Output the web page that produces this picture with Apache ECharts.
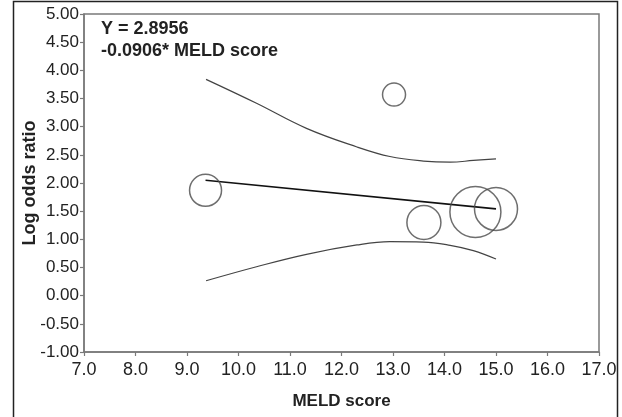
<!DOCTYPE html>
<html>
<head>
<meta charset="utf-8">
<script src="https://cdn.jsdelivr.net/npm/echarts@6/dist/echarts.min.js"></script>
<style>
html,body{margin:0;padding:0;background:#fff;}
#chart{width:622px;height:417px;}
</style>
</head>
<body>
<div id="chart"></div>
<script>
// MELD score and log odds ratio of each study (bubble)
var studyMeld = [9.36, 13.02, 13.60, 14.60, 15.00];
var studyLogOR = [1.87, 3.57, 1.30, 1.485, 1.54];
var studyWeight = [32, 23, 34, 51, 43];

// Regression line endpoints
var regMeld = [9.36, 15.0];
var regLogOR = [2.05, 1.54];

// Confidence band curves
var ciMeld = [9.37, 10.35, 11.32, 12.30, 12.94, 13.59, 14.11, 14.56, 15.0];
var ciUpper = [3.84, 3.415, 2.97, 2.64, 2.47, 2.39, 2.37, 2.40, 2.43];
var ciLower = [0.265, 0.514, 0.734, 0.90, 0.958, 0.952, 0.894, 0.80, 0.65];

var xTicks = ['7.0','8.0','9.0','10.0','11.0','12.0','13.0','14.0','15.0','16.0','17.0'];
var yTicks = ['-1.00','-0.50','0.00','0.50','1.00','1.50','2.00','2.50','3.00','3.50','4.00','4.50','5.00'];

function pairs(xs, ys){ return xs.map(function(x,i){return [x, ys[i]];}); }

var chart = echarts.init(document.getElementById('chart'), null, {renderer:'canvas'});
var axisGray = '#7a7a7a';
var txt = '#222';
var font = 'Liberation Sans, Arial, sans-serif';

chart.setOption({
  animation:false,
  backgroundColor:'#fff',
  grid:{left:84, right:23, top:14, bottom:65, show:true, borderColor:axisGray, borderWidth:1.5, containLabel:false},
  xAxis:{
    type:'value', min:7, max:17, interval:1,
    axisLine:{show:true, onZero:false, lineStyle:{color:axisGray, width:1.5}},
    axisTick:{show:true, length:4, lineStyle:{color:axisGray, width:1.2}},
    splitLine:{show:false},
    axisLabel:{margin:9, color:txt, fontSize:18, fontFamily:font,
      formatter:function(v){ var i=Math.round(v-7); return xTicks[i]; }},
    name:'MELD score', nameLocation:'middle', nameGap:41, nameMoveOverlap:false,
    nameTextStyle:{color:txt, fontSize:17, fontWeight:'bold', fontFamily:font}
  },
  yAxis:{
    type:'value', min:-1, max:5, interval:0.5,
    axisLine:{show:true, onZero:false, lineStyle:{color:axisGray, width:1.5}},
    axisTick:{show:true, length:4, lineStyle:{color:axisGray, width:1.2}},
    splitLine:{show:false},
    axisLabel:{margin:5, color:txt, fontSize:17, fontFamily:font,
      formatter:function(v){ var i=Math.round((v+1)*2); return yTicks[i]; }},
    name:'Log odds ratio', nameLocation:'middle', nameGap:45, nameMoveOverlap:false,
    nameTextStyle:{color:txt, fontSize:18, fontWeight:'bold', fontFamily:font}
  },
  graphic:[
    {type:'rect', shape:{x:13.5, y:1.5, width:604, height:430}, style:{fill:null, stroke:'#222', lineWidth:1.5}, silent:true, z:-1},
    {type:'text', left:101, top:20, style:{text:'Y = 2.8956', fill:txt, font:'bold 18px Liberation Sans, Arial, sans-serif'}},
    {type:'text', left:101, top:42, style:{text:'-0.0906* MELD score', fill:txt, font:'bold 18px Liberation Sans, Arial, sans-serif'}}
  ],
  series:[
    {type:'line', data:pairs(ciMeld, ciUpper), smooth:0.4, symbol:'none', lineStyle:{color:'#444', width:1.2}},
    {type:'line', data:pairs(ciMeld, ciLower), smooth:0.4, symbol:'none', lineStyle:{color:'#444', width:1.2}},
    {type:'line', data:pairs(regMeld, regLogOR), symbol:'none', lineStyle:{color:'#111', width:1.6}},
    {type:'scatter', data:studyMeld.map(function(x,i){return [x, studyLogOR[i], studyWeight[i]];}),
      symbol:'circle', symbolSize:function(d){return d[2];},
      itemStyle:{color:'rgba(0,0,0,0)', borderColor:'#4a4a4a', borderWidth:1.5}, z:3}
  ]
});
</script>
</body>
</html>
